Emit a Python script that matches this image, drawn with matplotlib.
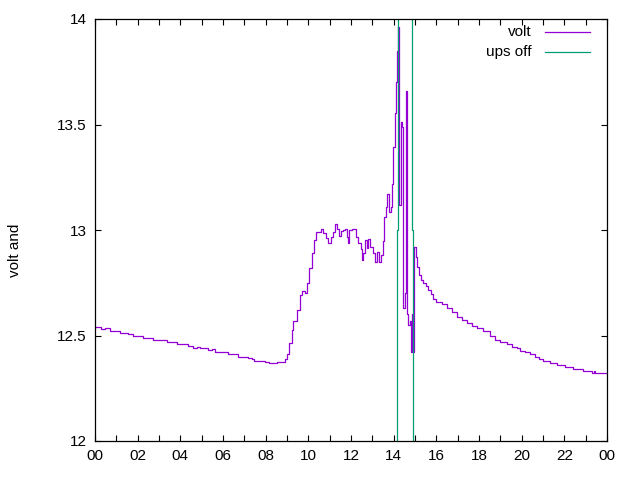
import matplotlib
matplotlib.use("Agg")
import matplotlib.pyplot as plt

plt.rcParams['font.family'] = ['Liberation Sans', 'DejaVu Sans']

# volt series: hours, volts
volt_t = [0.00, 0.20, 0.30, 0.45, 0.70, 1.17, 1.56, 1.80, 2.27, 2.73, 3.36, 3.83,
          4.22, 4.38, 4.61, 4.77, 4.92, 5.31, 5.47, 5.63, 6.25, 6.72, 7.19, 7.34,
          7.45, 7.97, 8.17, 8.52, 8.75, 8.91, 9.02, 9.11, 9.22, 9.30, 9.45, 9.61,
          9.69, 9.84, 9.95, 10.05, 10.16, 10.27, 10.36, 10.47, 10.58, 10.70, 10.83,
          10.94, 11.05, 11.14, 11.24, 11.33, 11.44, 11.52, 11.61, 11.72, 11.80,
          11.84, 11.92, 12.03, 12.14, 12.23, 12.34, 12.45, 12.53, 12.58, 12.66,
          12.74, 12.81, 12.89, 13.02, 13.12, 13.23, 13.33, 13.41, 13.49, 13.55,
          13.64, 13.70, 13.78, 13.86, 13.91, 13.98, 14.06, 14.13, 14.15, 14.18,
          14.25, 14.33, 14.38, 14.45, 14.51, 14.58, 14.61, 14.68, 14.75, 14.80,
          14.82, 14.85, 14.90, 14.95, 15.05, 15.11, 15.19, 15.27, 15.39, 15.52,
          15.63, 15.73, 15.86, 15.98, 16.25, 16.48, 16.72, 16.95, 17.19, 17.42,
          17.66, 17.89, 18.20, 18.50, 18.75, 18.98, 19.30, 19.53, 19.77, 19.92,
          20.16, 20.39, 20.63, 20.83, 21.02, 21.33, 21.64, 22.03, 22.42, 22.89,
          23.28, 23.39, 23.45, 23.67, 24.00]
volt_v = [12.540, 12.540, 12.530, 12.535, 12.520, 12.513, 12.508, 12.500, 12.488,
          12.479, 12.468, 12.460, 12.460, 12.450, 12.440, 12.447, 12.440, 12.431,
          12.436, 12.420, 12.412, 12.400, 12.392, 12.387, 12.379, 12.376, 12.370,
          12.376, 12.376, 12.390, 12.410, 12.463, 12.526, 12.570, 12.620, 12.690,
          12.710, 12.703, 12.750, 12.820, 12.890, 12.953, 12.992, 12.990, 13.005,
          12.984, 12.960, 12.940, 12.968, 12.990, 13.027, 13.003, 12.970, 12.995,
          13.000, 13.003, 12.968, 12.940, 13.000, 13.003, 13.003, 12.968, 12.940,
          12.910, 12.858, 12.890, 12.953, 12.913, 12.956, 12.920, 12.890, 12.850,
          12.897, 12.850, 12.880, 12.950, 13.063, 13.110, 13.170, 13.087, 13.110,
          13.220, 13.395, 13.553, 13.700, 13.850, 13.960, 13.120, 13.510, 13.490,
          12.630, 12.700, 13.660, 12.600, 12.550, 12.570, 12.500, 12.420, 12.600,
          12.420, 12.918, 12.873, 12.826, 12.787, 12.763, 12.750, 12.735, 12.716,
          12.697, 12.672, 12.657, 12.648, 12.629, 12.613, 12.589, 12.573, 12.558,
          12.545, 12.534, 12.520, 12.500, 12.480, 12.468, 12.460, 12.447, 12.440,
          12.428, 12.420, 12.412, 12.397, 12.387, 12.379, 12.371, 12.360, 12.349,
          12.340, 12.332, 12.324, 12.332, 12.320, 12.320, 12.320]

# ups off series
ups_t = [14.17, 14.17, 14.22, 14.22, 14.87, 14.87, 14.92, 14.92]
ups_v = [11.0, 13.0, 13.0, 15.0, 15.0, 13.0, 13.0, 11.0]

xtick_vals = list(range(0, 25))
xtick_labels = ["%02d" % (h % 24) if h % 2 == 0 else "" for h in xtick_vals]
ytick_vals = [12, 12.5, 13, 13.5, 14]
ytick_labels = ["12", "12.5", "13", "13.5", "14"]

fig = plt.figure(figsize=(6.4, 4.8), dpi=100)
ax = fig.add_axes([95/640, 1 - 441/480, 512/640, 422/480])

ax.plot(volt_t, volt_v, color='#9400D3', lw=0.9, drawstyle='steps-post')
ax.plot(ups_t, ups_v, color='#009E73', lw=0.9)

ax.set_xlim(0, 24)
ax.set_ylim(12, 14)
ax.set_xticks(xtick_vals)
ax.set_xticklabels(xtick_labels)
ax.set_yticks(ytick_vals)
ax.set_yticklabels(ytick_labels)
ax.tick_params(direction='in', length=4, width=0.8, top=True, right=True,
               labelsize=11, pad=6, colors='black')
for s in ax.spines.values():
    s.set_linewidth(0.9)

fig.text(15/640, 1 - 250/480, "volt and", rotation=90, ha='center', va='center', fontsize=11)

# legend (gnuplot style)
rows = [("volt", '#9400D3', (441 - 32) / 422), ("ups off", '#009E73', (441 - 52) / 422)]
for label, col, yy in rows:
    ax.text((532 - 95) / 512, yy, label, transform=ax.transAxes, ha='right', va='center', fontsize=11)
    ax.plot([(545 - 95) / 512, (590 - 95) / 512], [yy, yy], transform=ax.transAxes,
            color=col, lw=0.9, clip_on=False)

fig.savefig("out.png", dpi=100)
